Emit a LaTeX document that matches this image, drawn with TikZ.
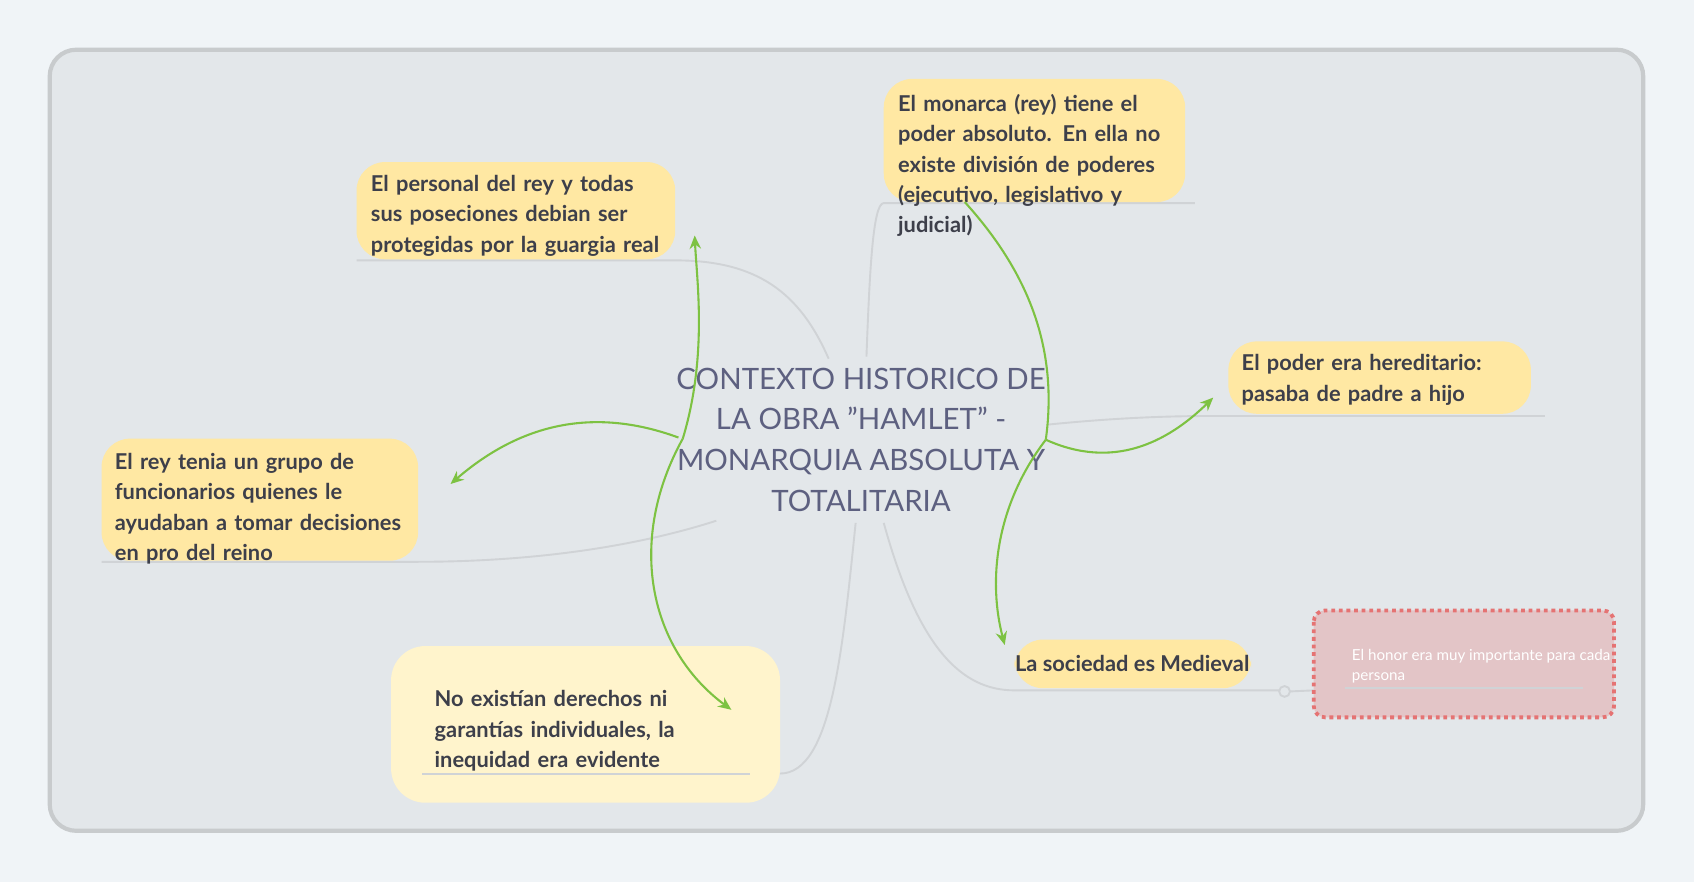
\documentclass[tikz,border=0pt]{standalone}
\usepackage{fontspec}
\setmainfont{Lato}
\usetikzlibrary{positioning,arrows.meta}
\definecolor{pagebg}{HTML}{F0F4F7}
\definecolor{framebg}{HTML}{E3E7EA}
\definecolor{frameline}{HTML}{C8CBCD}
\definecolor{ideafill}{HTML}{FFE8A3}
\definecolor{ideal}{HTML}{FFF4CC}
\definecolor{ink}{HTML}{3D3F4A}
\definecolor{central}{HTML}{5D6080}
\definecolor{branch}{HTML}{D0D3D6}
\definecolor{link}{HTML}{7DC242}
\definecolor{notebg}{HTML}{E3C5C7}
\definecolor{noteline}{HTML}{E57373}
\tikzset{
  idea/.style={text=ink,align=left,inner sep=0pt,font=\fontsize{11.5}{16}\selectfont\bfseries},
  branch/.style={draw=branch,line width=1pt},
  link/.style={draw=link,line width=1.1pt,-{Stealth[length=7pt,width=6pt]}}
}
\hyphenpenalty=10000
\begin{document}
\begin{tikzpicture}[x=0.02cm,y=-0.02cm]
\fill[pagebg] (0,0) rectangle (1568,816);
\draw[frameline,fill=framebg,line width=2.2pt,rounded corners=14pt] (46,46) rectangle (1521,769);
% branches
\draw[branch] (767,332) .. controls (740,270) and (700,241) .. (625,241) -- (330,241);
\draw[branch] (802,330) .. controls (805,250) and (808,188) .. (818,188) -- (1106,188);
\draw[branch] (970,393) .. controls (1050,385) and (1100,385) .. (1137,385) -- (1430,385);
\draw[branch] (663,482) .. controls (560,515) and (450,520) .. (387,520) -- (94,520);
\draw[branch] (792,484) .. controls (780,600) and (770,716) .. (722,716);
\draw[branch] (818,484) .. controls (850,600) and (890,639) .. (939,639) -- (1184,639);
\draw[branch] (1194,640) -- (1216,639);
\draw[branch,fill=framebg] (1189,640) circle (5);
% ideas
\fill[ideafill,rounded corners=15pt] (330,150) rectangle (625,240);
\node[idea,anchor=north west,text width=5.6cm] (guardia) at (343,162) {El personal del rey y todas sus poseciones debian ser protegidas por la guargia real};
\fill[ideafill,rounded corners=15pt] (818,73) rectangle (1097,187);
\node[idea,anchor=north west,text width=5.3cm] (monarca) at (831,87) {El monarca (rey) tiene el poder absoluto. En ella no existe división de poderes (ejecutivo, legislativo y judicial)};
\fill[ideafill,rounded corners=15pt] (1137,316) rectangle (1417,383);
\node[idea,anchor=north west,text width=5.3cm] (poder) at (1149,328) {El poder era hereditario: pasaba de padre a hijo};
\fill[ideafill,rounded corners=15pt] (94,406) rectangle (387,519);
\node[idea,anchor=north west,text width=5.6cm] (funcionarios) at (106,419) {El rey tenia un grupo de funcionarios quienes le ayudaban a tomar decisiones en pro del reino};
\fill[ideal,rounded corners=18pt] (362,598) rectangle (722,743);
\node[idea,anchor=north west,text width=5.9cm] (derechos) at (402,639) {No existían derechos ni garantías individuales, la inequidad era evidente};
\draw[branch] (391,716) -- (694,716);
\fill[ideafill,rounded corners=15pt] (939,592) rectangle (1158,637);
\node[idea] (sociedad) at (1048,614) {La sociedad es Medieval};
% note
\draw[noteline,fill=notebg,line width=2pt,dotted,rounded corners=6pt] (1216,565) rectangle (1494,664);
\node[anchor=north west,text=white,font=\fontsize{8}{10.5}\selectfont,align=left,inner sep=0pt] (honor) at (1251,601) {El honor era muy importante para cada\\persona};
\draw[branch] (1245,637) -- (1465,637);
% central
\node[text=central,align=center,font=\fontsize{15.5}{21.5}\selectfont] (centro) at (797,407) {CONTEXTO HISTORICO DE\\LA OBRA \symbol{34}HAMLET\symbol{34} -\\MONARQUIA ABSOLUTA Y\\TOTALITARIA};
% links
\path[link] (632,406) .. controls (655,330) and (645,260) .. (643,218);
\path[link] (628,405) .. controls (560,380) and (490,385) .. (417,448);
\path[link] (632,406) .. controls (580,500) and (600,600) .. (677,657);
\draw[link,-] (893,187) .. controls (950,250) and (980,320) .. (968,407);
\path[link] (968,407) .. controls (920,470) and (915,540) .. (930,597);
\path[link] (968,407) .. controls (1030,435) and (1080,410) .. (1123,368);
\end{tikzpicture}
\end{document}
